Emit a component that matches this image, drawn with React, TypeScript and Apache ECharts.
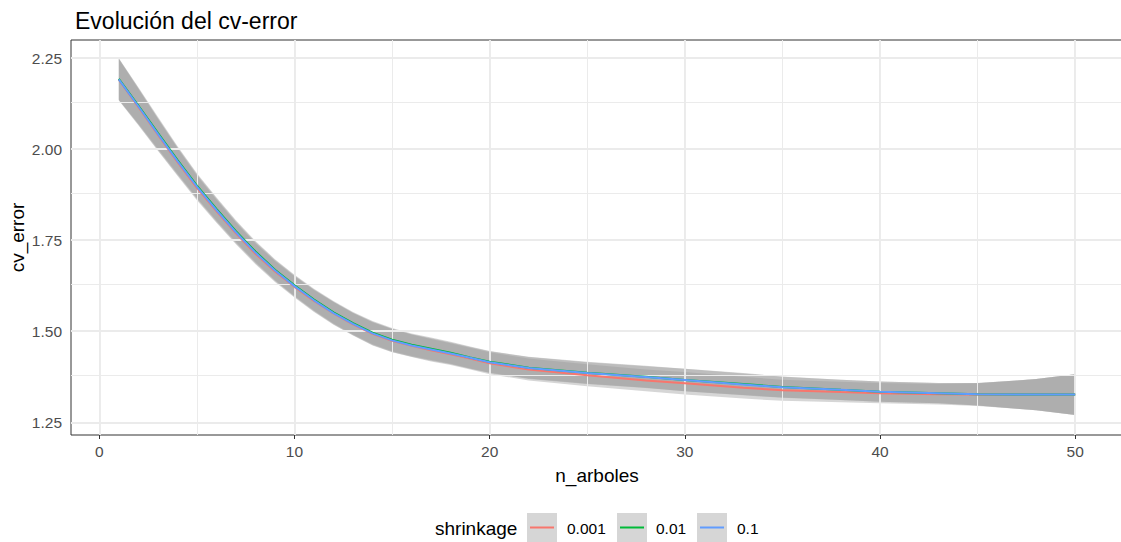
import React, { useEffect, useRef } from "react";
import * as echarts from "echarts";

const xs = [1, 2, 3, 4, 5, 6, 7, 8, 9, 10, 11, 12, 13, 14, 15, 16, 17, 18, 19, 20, 22, 25, 28, 30, 33, 35, 38, 40, 43, 45, 47, 48, 50];

const cvBlue = [2.192, 2.118, 2.042, 1.968, 1.897, 1.833, 1.772, 1.716, 1.667, 1.624, 1.585, 1.550, 1.520, 1.494, 1.475, 1.461, 1.450, 1.439, 1.427, 1.415, 1.399, 1.385, 1.374, 1.366, 1.354, 1.346, 1.339, 1.334, 1.330, 1.327, 1.326, 1.326, 1.326];
const cvGreen = [2.193, 2.120, 2.045, 1.971, 1.900, 1.836, 1.775, 1.719, 1.669, 1.626, 1.587, 1.552, 1.522, 1.496, 1.477, 1.463, 1.452, 1.441, 1.428, 1.416, 1.400, 1.386, 1.375, 1.366, 1.355, 1.347, 1.339, 1.334, 1.330, 1.327, 1.326, 1.326, 1.326];
const cvRed = [2.191, 2.116, 2.040, 1.965, 1.894, 1.830, 1.769, 1.713, 1.664, 1.622, 1.583, 1.549, 1.519, 1.493, 1.474, 1.460, 1.448, 1.437, 1.425, 1.412, 1.395, 1.379, 1.365, 1.357, 1.345, 1.338, 1.333, 1.330, 1.327, 1.326, 1.326, 1.326, 1.326];
const seHalf = [0.057, 0.050, 0.044, 0.038, 0.034, 0.032, 0.030, 0.029, 0.029, 0.029, 0.030, 0.031, 0.031, 0.032, 0.032, 0.031, 0.031, 0.030, 0.030, 0.030, 0.030, 0.030, 0.030, 0.031, 0.030, 0.029, 0.028, 0.028, 0.028, 0.031, 0.039, 0.043, 0.056];

const xTicks = [0, 10, 20, 30, 40, 50];
const xMinor = [5, 15, 25, 35, 45];
const yTicks = [1.25, 1.5, 1.75, 2.0, 2.25];
const yMinor = [1.375, 1.625, 1.875, 2.125];

const groups = [
  { name: "0.001", values: cvRed, color: "#F8766D" },
  { name: "0.01", values: cvGreen, color: "#00BA38" },
  { name: "0.1", values: cvBlue, color: "#619CFF" },
];

const FONT = "'Liberation Sans', Arial, sans-serif";

export default function App() {
  const ref = useRef<HTMLDivElement>(null);
  useEffect(() => {
    document.body.style.margin = "0";
    const chart = echarts.init(ref.current!, null, { renderer: "svg" });

    const gridLines: any[] = [];
    xMinor.forEach((v) => gridLines.push({ xAxis: v, lineStyle: { color: "#ebebeb", width: 1, type: "solid" } }));
    yMinor.forEach((v) => gridLines.push({ yAxis: v, lineStyle: { color: "#ebebeb", width: 1, type: "solid" } }));
    xTicks.forEach((v) => gridLines.push({ xAxis: v, lineStyle: { color: "#ebebeb", width: 1.9, type: "solid" } }));
    yTicks.forEach((v) => gridLines.push({ yAxis: v, lineStyle: { color: "#ebebeb", width: 1.9, type: "solid" } }));

    const series: any[] = [
      {
        type: "line",
        name: "grid",
        data: [],
        silent: true,
        markLine: { symbol: "none", silent: true, label: { show: false }, data: gridLines, animation: false },
      },
    ];

    groups.forEach((g, i) => {
      const rows = xs.map((x, k) => [x, g.values[k] - seHalf[k], g.values[k] + seHalf[k]]);
      series.push({
        type: "custom",
        name: "band" + i,
        silent: true,
        data: rows,
        encode: { x: 0, y: [1, 2] },
        z: 2,
        renderItem: (params: any, api: any) => {
          if (params.dataIndex !== 0) return null;
          const upper = rows.map((r) => api.coord([r[0], r[2]]));
          const lower = rows.map((r) => api.coord([r[0], r[1]])).reverse();
          return {
            type: "polygon",
            shape: { points: upper.concat(lower) },
            style: { fill: "#999999", opacity: 0.4 },
          };
        },
      });
    });
    groups.forEach((g) => {
      series.push({
        type: "line",
        name: g.name,
        data: xs.map((x, k) => [x, g.values[k]]),
        symbol: "none",
        lineStyle: { color: g.color, width: 2 },
        z: 5,
      });
    });

    chart.setOption({
      animation: false,
      title: {
        text: "Evolución del cv-error",
        left: 70,
        top: 4,
        textStyle: { fontFamily: FONT, fontSize: 23, fontWeight: "normal", color: "#000" },
      },
      grid: {
        left: 71, top: 40, right: -2, bottom: 107,
        containLabel: false, outerBoundsMode: "none",
        show: true, borderColor: "#333333", borderWidth: 1, backgroundColor: "transparent",
      },
      xAxis: {
        type: "value",
        min: -1.45,
        max: 52.45,
        name: "n_arboles",
        nameLocation: "middle",
        nameGap: 31,
        nameMoveOverlap: false,
        nameTextStyle: { fontFamily: FONT, fontSize: 19, color: "#000" },
        axisLine: { show: false },
        splitLine: { show: false },
        axisTick: { show: true, customValues: xTicks, length: 4, lineStyle: { color: "#333333", width: 1 } },
        axisLabel: { customValues: xTicks, color: "#4d4d4d", fontFamily: FONT, fontSize: 15.5, margin: 8, formatter: (v: number) => String(v) },
      },
      yAxis: {
        type: "value",
        min: 1.215,
        max: 2.3,
        name: "cv_error",
        nameLocation: "middle",
        nameGap: 44,
        nameMoveOverlap: false,
        nameRotate: 90,
        nameTextStyle: { fontFamily: FONT, fontSize: 19, color: "#000" },
        axisLine: { show: false },
        splitLine: { show: false },
        axisTick: { show: true, customValues: yTicks, length: 4, lineStyle: { color: "#333333", width: 1 } },
        axisLabel: { customValues: yTicks, color: "#4d4d4d", fontFamily: FONT, fontSize: 15.5, margin: 9, formatter: (v: number) => v.toFixed(2) },
      },
      series,
      graphic: [
        { type: "text", style: { x: 435, y: 528, text: "shrinkage", font: `19px ${FONT}`, fill: "#000", verticalAlign: "middle", align: "left" } },
        ...groups.flatMap((g, i) => {
          const bx = [527, 617, 697][i];
          const tx = [567, 656, 737][i];
          return [
            { type: "rect", shape: { x: bx, y: 513, width: 30, height: 30 }, style: { fill: "#d6d6d6" } },
            { type: "line", shape: { x1: bx + 3, y1: 527.5, x2: bx + 27, y2: 527.5 }, style: { stroke: g.color, lineWidth: 2 } },
            { type: "text", style: { x: tx, y: 528, text: g.name, font: `15.5px ${FONT}`, fill: "#000", verticalAlign: "middle", align: "left" } },
          ];
        }),
      ],
    });
    return () => chart.dispose();
  }, []);
  return <div ref={ref} style={{ width: 1121, height: 542 }} />;
}
